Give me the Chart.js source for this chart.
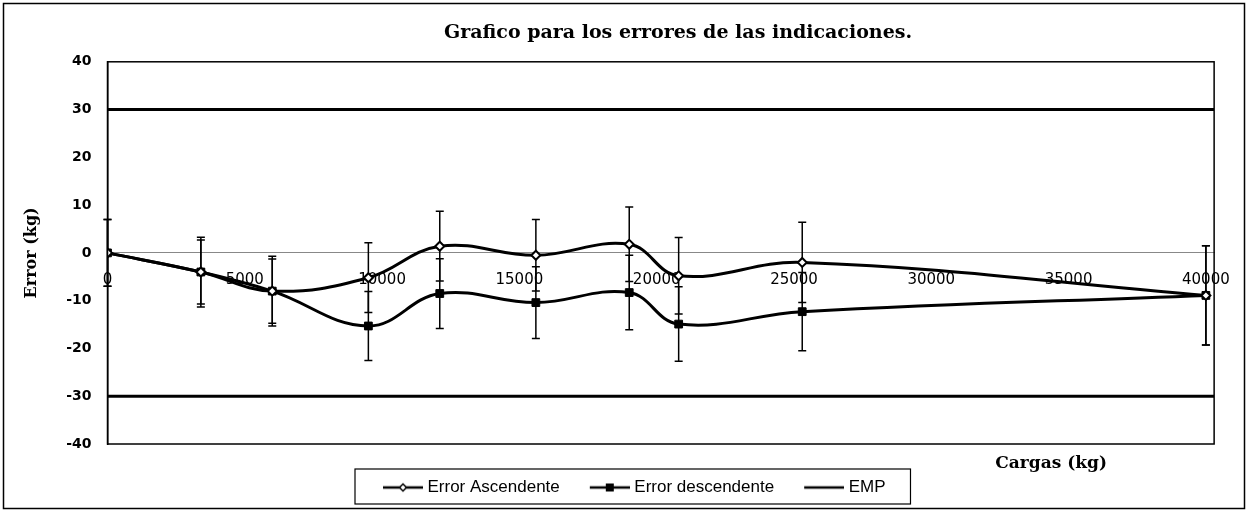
<!DOCTYPE html>
<html>
<head>
<meta charset="utf-8">
<script src="https://cdn.jsdelivr.net/npm/chart.js@4"></script>
<style>
  body { margin: 0; background: #fff; }
</style>
</head>
<body>
<canvas id="grafico-errores" width="1248" height="512"></canvas>
<script>
// Cargas aplicadas (kg)
const cargas = [0, 3400, 6000, 9500, 12100, 15600, 19000, 20800, 25300, 40000];
// Error de indicación en carga ascendente / descendente (kg)
const errorAsc = [0, -4, -8, -5.2, 1.4, -0.5, 1.8, -4.8, -2, -8.9];
const errorDesc = [0, -4, -8, -15.3, -8.5, -10.4, -8.3, -14.9, -12.3, -8.9];
// Incertidumbre de cada punto (barras de error, kg)
const incAsc = [7, 7.3, 7.3, 7.3, 7.3, 7.5, 7.8, 8, 8.4, 10.4];
const incDesc = [7, 6.7, 6.7, 7.2, 7.3, 7.5, 7.8, 7.8, 8.2, 10.4];
// Error maximo permitido (kg)
const empPos = 30;
const empNeg = -30;
// Ejes
const ticksCarga = [0, 5000, 10000, 15000, 20000, 25000, 30000, 35000, 40000];
const cargaMin = 0;
const cargaMax = 40300;
const errorMin = -40;
const errorMax = 40;
const pasoError = 10;

const aPuntos = (vals) => cargas.map((c, i) => ({x: c, y: vals[i]}));

// Iconos de la leyenda: linea con marcador (ocupan los ultimos 40 px)
function iconoLeyenda(marcador) {
  const c = document.createElement('canvas');
  c.width = 64; c.height = 12;
  const g = c.getContext('2d');
  g.strokeStyle = '#000';
  g.lineWidth = 2.5;
  g.beginPath(); g.moveTo(24, 6); g.lineTo(64, 6); g.stroke();
  if (marcador === 'rombo') {
    g.fillStyle = '#fff';
    g.lineWidth = 1.5;
    g.beginPath();
    g.moveTo(44, 2.5); g.lineTo(47.5, 6); g.lineTo(44, 9.5); g.lineTo(40.5, 6); g.closePath();
    g.fill(); g.stroke();
  } else if (marcador === 'cuadro') {
    g.fillStyle = '#000';
    g.fillRect(40, 2, 8, 8);
  }
  return c;
}
const iconos = [iconoLeyenda('rombo'), iconoLeyenda('cuadro'), iconoLeyenda('linea')];

// Barras de error
const barrasError = {
  id: 'barrasError',
  beforeDatasetsDraw(chart) {
    const ctx = chart.ctx;
    const sx = chart.scales.x, sy = chart.scales.y;
    ctx.save();
    ctx.strokeStyle = '#000';
    ctx.lineWidth = 1.5;
    [[errorAsc, incAsc], [errorDesc, incDesc]].forEach(([vals, inc]) => {
      vals.forEach((v, i) => {
        const x = sx.getPixelForValue(cargas[i]);
        const y1 = sy.getPixelForValue(v + inc[i]);
        const y2 = sy.getPixelForValue(v - inc[i]);
        ctx.beginPath();
        ctx.moveTo(x, y1); ctx.lineTo(x, y2);
        ctx.moveTo(x - 4, y1); ctx.lineTo(x + 4, y1);
        ctx.moveTo(x - 4, y2); ctx.lineTo(x + 4, y2);
        ctx.stroke();
      });
    });
    ctx.restore();
  }
};

// Marcos, titulo del eje X y borde de la leyenda
const marcos = {
  id: 'marcos',
  afterLayout(chart) {
    const lg = chart.legend;
    lg.left = 353;
    const tb = chart.titleBlock;
    tb.left += 63;
    tb.right += 63;
  },
  afterDraw(chart) {
    const ctx = chart.ctx;
    const a = chart.chartArea;
    ctx.save();
    ctx.strokeStyle = '#000';
    ctx.lineWidth = 1.5;
    ctx.strokeRect(a.left, a.top, a.right - a.left, a.bottom - a.top);
    ctx.strokeRect(3.5, 3.5, chart.width - 7, chart.height - 7);

    const cajas = chart.legend.legendHitBoxes;
    const izq = Math.min(...cajas.map(b => b.left)) - 8;
    const der = Math.max(...cajas.map(b => b.left + b.width)) + 25;
    ctx.lineWidth = 1.2;
    ctx.strokeRect(izq, chart.legend.top, der - izq, chart.legend.bottom - chart.legend.top - 2);

    ctx.fillStyle = '#000';
    ctx.font = 'bold 17px "DejaVu Serif"';
    ctx.textAlign = 'center';
    ctx.textBaseline = 'middle';
    ctx.fillText('Cargas (kg)', a.right - 163, a.bottom + 20);
    ctx.restore();
  }
};

const lienzo = document.getElementById('grafico-errores');

new Chart(lienzo, {
  type: 'line',
  data: {
    datasets: [{
      label: 'Error Ascendente',
      data: aPuntos(errorAsc),
      borderColor: '#000',
      borderWidth: 3,
      tension: 0.4,
      pointStyle: 'rectRot',
      pointRadius: 4.5,
      pointBackgroundColor: '#fff',
      pointBorderColor: '#000',
      pointBorderWidth: 2
    }, {
      label: 'Error descendente',
      data: aPuntos(errorDesc),
      borderColor: '#000',
      borderWidth: 3,
      tension: 0.4,
      pointStyle: 'rect',
      pointRadius: 5.5,
      pointBackgroundColor: '#000',
      pointBorderColor: '#000',
      pointBorderWidth: 1
    }, {
      label: 'EMP',
      data: [{x: cargaMin, y: empPos}, {x: cargaMax, y: empPos}],
      borderColor: '#000',
      borderWidth: 3,
      pointRadius: 0
    }, {
      label: 'EMP-',
      data: [{x: cargaMin, y: empNeg}, {x: cargaMax, y: empNeg}],
      borderColor: '#000',
      borderWidth: 3,
      pointRadius: 0
    }]
  },
  options: {
    responsive: false,
    animation: false,
    layout: {padding: {left: 8, right: 26, top: 0, bottom: 6}},
    scales: {
      x: {
        type: 'linear',
        min: cargaMin,
        max: cargaMax,
        position: {y: 0},
        afterBuildTicks: (s) => { s.ticks = ticksCarga.map(v => ({value: v})); },
        grid: {display: false, drawTicks: false},
        border: {color: '#888', width: 1, dash: [6, 3, 2, 3]},
        ticks: {
          padding: 18,
          color: '#000',
          autoSkip: false,
          maxRotation: 0,
          font: {family: 'DejaVu Sans', size: 15},
          callback: (v) => String(v)
        }
      },
      // eje vacio: solo reserva el espacio entre el grafico y la leyenda
      base: {
        type: 'linear',
        position: 'bottom',
        afterFit: (s) => { s.height = 25; },
        grid: {display: false, drawTicks: false},
        border: {display: false},
        ticks: {display: false}
      },
      y: {
        min: errorMin,
        max: errorMax,
        afterFit: (s) => { s.width = 99.5; },
        grid: {display: false, drawTicks: false},
        border: {color: '#000', width: 1.5},
        ticks: {
          stepSize: pasoError,
          padding: 16,
          color: '#000',
          font: {family: 'DejaVu Sans', size: 14, weight: 'bold'}
        },
        title: {
          display: true,
          text: 'Error (kg)',
          color: '#000',
          font: {family: 'DejaVu Serif', size: 16, weight: 'bold'},
          padding: {top: 14, bottom: 0}
        }
      }
    },
    plugins: {
      title: {
        display: true,
        text: 'Grafico para los errores de las indicaciones.',
        color: '#000',
        font: {family: 'DejaVu Serif', size: 19, weight: 'bold'},
        padding: {top: 22, bottom: 17}
      },
      legend: {
        position: 'bottom',
        align: 'start',
        labels: {
          color: '#000',
          font: {family: 'Liberation Sans', size: 17},
          usePointStyle: true,
          pointStyleWidth: 56,
          padding: 10,
          generateLabels: (chart) => Chart.defaults.plugins.legend.labels.generateLabels(chart)
            .filter(item => item.datasetIndex < 3)
            .map(item => Object.assign(item, {pointStyle: iconos[item.datasetIndex]}))
        }
      },
      tooltip: {enabled: false}
    }
  },
  plugins: [barrasError, marcos]
});
</script>
</body>
</html>
